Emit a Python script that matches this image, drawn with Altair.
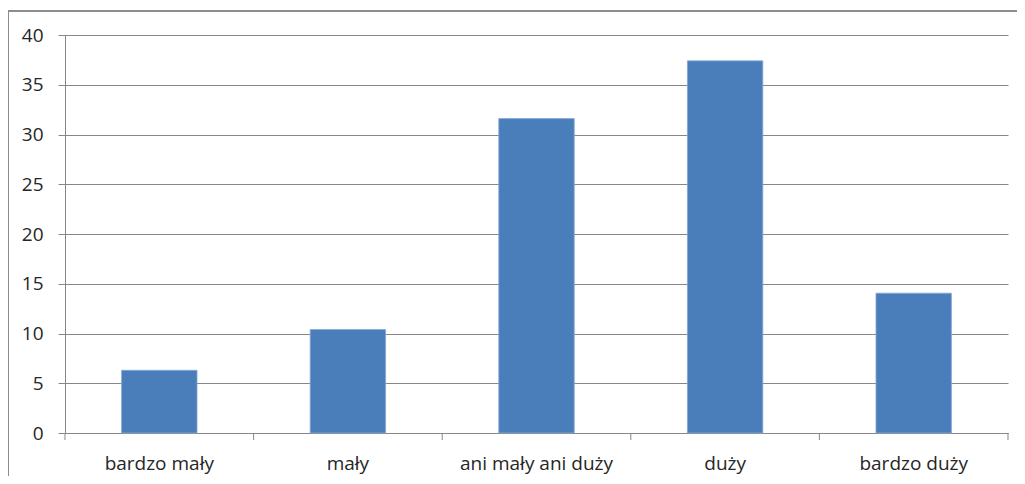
import altair as alt
import pandas as pd

categories = ["bardzo mały", "mały", "ani mały ani duży", "duży", "bardzo duży"]
values = [6.3, 10.4, 31.6, 37.4, 14.05]

df = pd.DataFrame({"cat": categories, "val": values})
df_last = pd.DataFrame({"cat": categories[-1:]})

GRID = "#878787"
TEXT = "#262626"
FONT = "Open Sans"

xscale = alt.Scale(paddingInner=0, paddingOuter=0)

bars = alt.Chart(df).mark_bar(
    color="#4a7ebb", stroke="#86a8d6", strokeWidth=0.8,
    width=alt.RelativeBandSize(0.4)
).encode(
    x=alt.X("cat:N", sort=categories, title=None, scale=xscale,
            axis=alt.Axis(labelAngle=0, ticks=False,
                          domainColor=GRID, labelPadding=21,
                          labelFont=FONT, labelFontSize=19, labelColor=TEXT,
                          grid=False, labelLimit=300)),
    y=alt.Y("val:Q", title=None,
            scale=alt.Scale(domain=[0, 40], nice=False),
            axis=alt.Axis(values=[0, 5, 10, 15, 20, 25, 30, 35, 40], tickSize=7,
                          tickColor=GRID, domainColor=GRID, gridColor=GRID,
                          gridOpacity=1, grid=True, labelPadding=15,
                          labelFont=FONT, labelFontSize=19, labelColor=TEXT)),
)

xticks = alt.Chart(df).mark_rule(color=GRID, strokeWidth=1).encode(
    x=alt.X("cat:N", sort=categories, bandPosition=0, scale=xscale),
    y=alt.value(398), y2=alt.value(405)
)
xtick_last = alt.Chart(df_last).mark_rule(color=GRID, strokeWidth=1).encode(
    x=alt.X("cat:N", sort=categories, bandPosition=1, scale=xscale),
    y=alt.value(398), y2=alt.value(405)
)

frame_top = alt.Chart(df).mark_rule(color="#8a8a8a", strokeWidth=1).encode(
    x=alt.value(-57), x2=alt.value(1100), y=alt.value(-24)
)
frame_left = alt.Chart(df).mark_rule(color="#8a8a8a", strokeWidth=1).encode(
    x=alt.value(-57), y=alt.value(-24), y2=alt.value(600)
)

chart = alt.layer(bars, xticks, xtick_last, frame_top, frame_left).properties(
    width=943, height=398,
    autosize=alt.AutoSizeParams(type="none"),
    padding={"left": 57, "top": 27, "right": 9, "bottom": 43},
).configure_view(stroke=None).configure_axis(domainWidth=1, tickWidth=1, gridWidth=1)

chart.save("out.html", embed_options={"renderer": "svg", "actions": False})
